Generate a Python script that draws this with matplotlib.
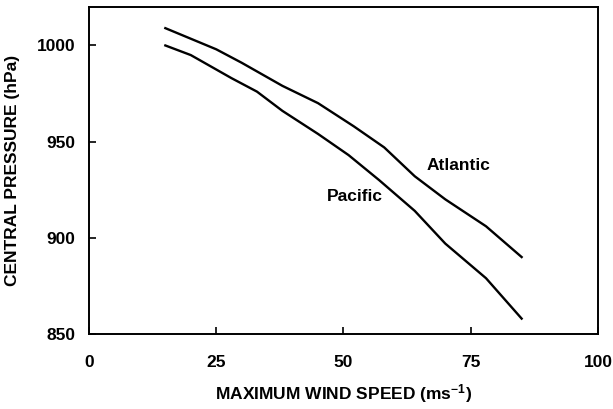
import matplotlib
matplotlib.use("Agg")
import matplotlib.pyplot as plt

# Wind-pressure relationships (max wind speed in m/s, central pressure in hPa)
atlantic_wind = [15, 20, 25, 30, 38, 45, 52, 58, 64, 70, 78, 85]
atlantic_pres = [1009, 1003.5, 998, 991, 979, 970, 958, 947, 932, 920, 906, 890]

pacific_wind = [15, 20, 28, 33, 38, 45, 51, 57, 64, 70, 78, 85]
pacific_pres = [1000, 995, 983, 976, 966, 954, 943, 930, 914, 897, 879, 858]

x_ticks = [0, 25, 50, 75, 100]
y_ticks = [850, 900, 950, 1000]

plt.rcParams["font.family"] = ["Liberation Sans", "DejaVu Sans"]
plt.rcParams["font.weight"] = "bold"
plt.rcParams["mathtext.fontset"] = "custom"
plt.rcParams["mathtext.rm"] = "Liberation Sans:bold"
plt.rcParams["mathtext.bf"] = "Liberation Sans:bold"
plt.rcParams["mathtext.default"] = "bf"

FS = 12.5

fig = plt.figure(figsize=(6.13, 4.09), dpi=100)
ax = fig.add_axes([0.1452, 0.1834, 0.8303, 0.7995])

ax.plot(atlantic_wind, atlantic_pres, color="black", lw=1.7, solid_joinstyle="round")
ax.plot(pacific_wind, pacific_pres, color="black", lw=1.7, solid_joinstyle="round")

ax.text(72.5, 937.5, "Atlantic", ha="center", va="center", fontsize=FS, fontweight="bold")
ax.text(52.3, 921.3, "Pacific", ha="center", va="center", fontsize=FS, fontweight="bold")

ax.set_xlim(0, 100)
ax.set_ylim(850, 1020)
ax.set_xticks(x_ticks)
ax.set_yticks(y_ticks)
ax.tick_params(axis="both", direction="in", length=5, width=1.2, labelsize=FS)
ax.tick_params(axis="x", pad=15)
ax.tick_params(axis="y", pad=10)
for lbl in ax.get_xticklabels() + ax.get_yticklabels():
    lbl.set_fontweight("bold")

for s in ax.spines.values():
    s.set_linewidth(1.4)

ax.set_xlabel("MAXIMUM WIND SPEED (ms$^{-1}$)", fontsize=FS, fontweight="bold", labelpad=9)
ax.set_ylabel("CENTRAL PRESSURE (hPa)", fontsize=FS, fontweight="bold", labelpad=12)

fig.savefig("out.png", dpi=100)
